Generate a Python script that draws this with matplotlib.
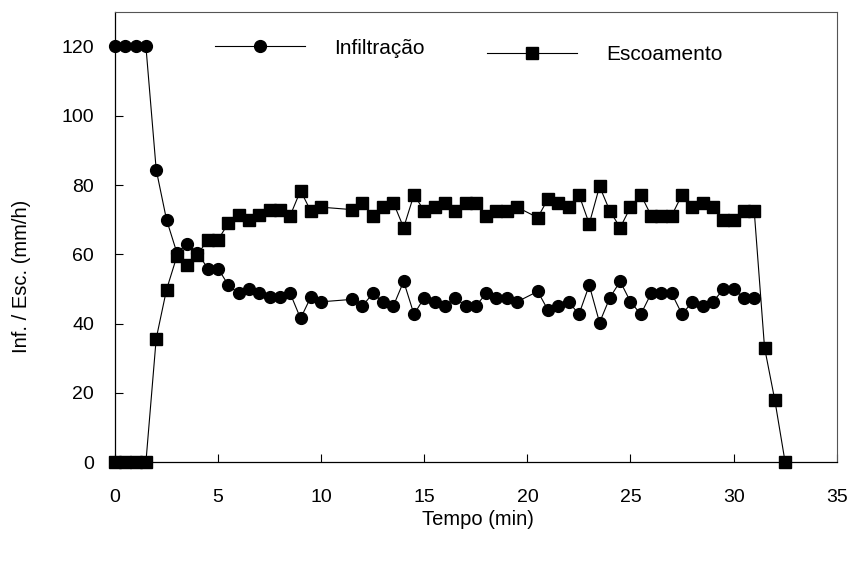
import matplotlib
matplotlib.use("Agg")
import matplotlib.pyplot as plt
from matplotlib import font_manager

names = {f.name for f in font_manager.fontManager.ttflist}
fam = "Liberation Sans Narrow" if "Liberation Sans Narrow" in names else "Liberation Sans"
plt.rcParams['font.family'] = [fam, 'DejaVu Sans']

# Data
tempo_inf = [0, 0.5, 1, 1.5, 2, 2.5, 3, 3.5, 4, 4.5, 5, 5.5, 6, 6.5, 7, 7.5, 8, 8.5, 9, 9.5, 10,
             11.5, 12, 12.5, 13, 13.5, 14, 14.5, 15, 15.5, 16, 16.5, 17, 17.5, 18, 18.5, 19, 19.5,
             20.5, 21, 21.5, 22, 22.5, 23, 23.5, 24, 24.5, 25, 25.5, 26, 26.5, 27, 27.5, 28, 28.5,
             29, 29.5, 30, 30.5, 31]
infiltracao = [120, 120, 120, 120, 84.4, 70.0, 60.5, 62.9, 60.5, 55.9, 55.9, 51.1, 48.7, 50.1, 48.7,
               47.7, 47.7, 48.7, 41.5, 47.7, 46.3,
               47.0, 45.1, 48.7, 46.3, 45.1, 52.2, 42.7, 47.5, 46.3, 45.1, 47.5, 45.1, 45.1, 48.7,
               47.5, 47.5, 46.3,
               49.3, 43.9, 45.1, 46.3, 42.7, 51.1, 40.3, 47.5, 52.2, 46.3, 42.7, 48.7, 48.7, 48.7,
               42.7, 46.3, 45.1, 46.3, 49.9, 49.9, 47.5, 47.5]

tempo_esc = tempo_inf + [31.5, 32, 32.5]
escoamento = [0, 0, 0, 0, 35.7, 49.8, 59.4, 57.0, 59.9, 64.2, 64.2, 69.0, 71.4, 70.0, 71.4,
              72.7, 72.7, 71.2, 78.4, 72.4, 73.6,
              72.9, 74.9, 71.2, 73.6, 74.9, 67.7, 77.2, 72.5, 73.6, 74.9, 72.5, 74.9, 74.9, 71.2,
              72.5, 72.5, 73.6,
              70.6, 76.0, 74.9, 73.6, 77.2, 68.8, 79.6, 72.5, 67.7, 73.6, 77.2, 71.2, 71.2, 71.2,
              77.2, 73.6, 74.9, 73.6, 70.0, 70.0, 72.5, 72.5, 33.1, 17.9, 0]

xticks = [0, 5, 10, 15, 20, 25, 30, 35]
yticks = [0, 20, 40, 60, 80, 100, 120]

fig = plt.figure(figsize=(8.51, 5.63), dpi=100)
ax = fig.add_axes([0.1351, 0.1789, 0.9832 - 0.1351, 0.9792 - 0.1789])

l1, = ax.plot(tempo_inf, infiltracao, color='black', lw=0.8, marker='o', ms=8.5,
              mfc='black', mec='black', clip_on=False, zorder=3)
l2, = ax.plot(tempo_esc, escoamento, color='black', lw=0.8, marker='s', ms=8.5,
              mfc='black', mec='black', clip_on=False, zorder=3)

ax.set_xlim(0, 35)
ax.set_ylim(0, 130)
ax.set_xticks(xticks)
ax.set_yticks(yticks)
ax.tick_params(direction='in', length=6, width=0.8, labelsize=14,
               top=False, right=False)
ax.tick_params(axis='x', pad=19)
ax.tick_params(axis='y', pad=15)
for s in ['top', 'right']:
    ax.spines[s].set_color('#555555')
    ax.spines[s].set_linewidth(0.8)
for s in ['left', 'bottom']:
    ax.spines[s].set_color('black')
    ax.spines[s].set_linewidth(0.9)

ax.set_xlabel('Tempo (min)', fontsize=14.5, va='center')
ax.set_ylabel('Inf. / Esc. (mm/h)', fontsize=14.5, va='center')
ax.xaxis.set_label_coords(0.503, -0.128)
ax.yaxis.set_label_coords(-0.129, 0.413)

leg1 = ax.legend([l1], ['Infiltração'], loc='center left', bbox_to_anchor=(0.1275, 0.919),
                 frameon=False, fontsize=15, handlelength=4.3, handletextpad=1.4,
                 borderaxespad=0)
ax.add_artist(leg1)
ax.legend([l2], ['Escoamento'], loc='center left', bbox_to_anchor=(0.504, 0.904),
          frameon=False, fontsize=15, handlelength=4.3, handletextpad=1.4, borderaxespad=0)

fig.savefig('out.png', dpi=100)
